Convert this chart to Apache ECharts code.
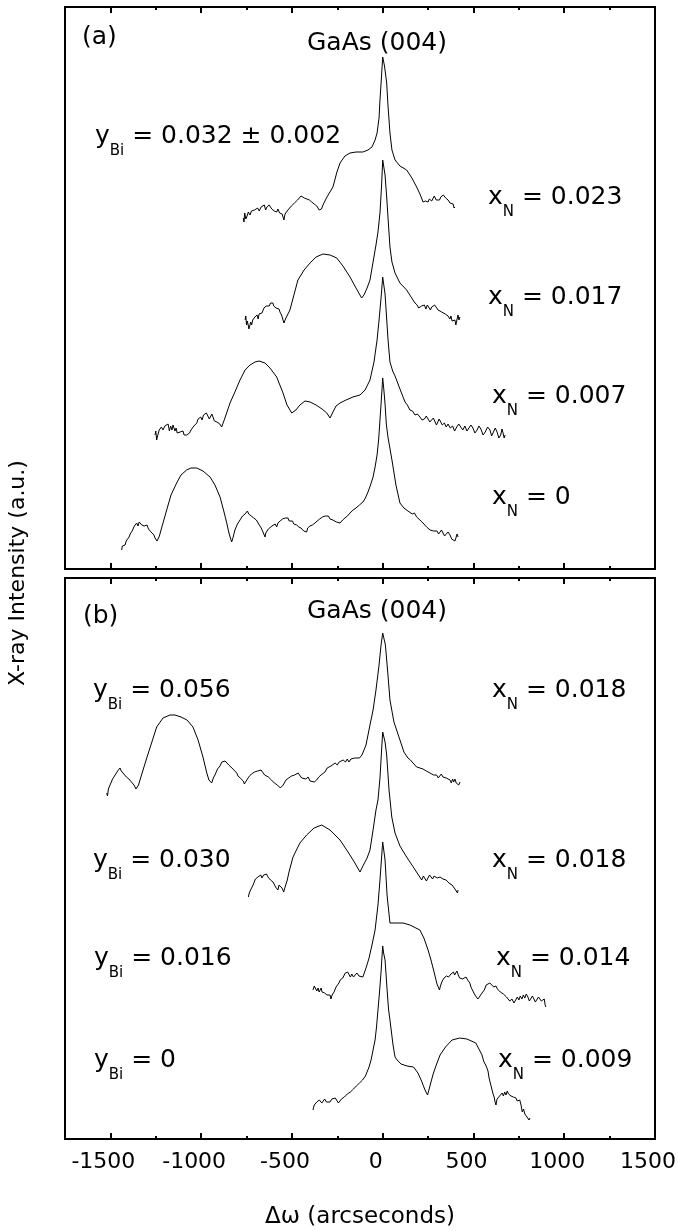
<!DOCTYPE html>
<html>
<head>
<meta charset="utf-8">
<title>GaAs (004) rocking curves</title>
<script src="https://cdn.jsdelivr.net/npm/echarts@6.0.0/dist/echarts.min.js"></script>
<style>
  html, body { margin: 0; padding: 0; background: #fff; }
  #main { width: 678px; height: 1231px; }
</style>
</head>
<body>
<div id="main"></div>
<script>
// 初始化图表
const myChart = echarts.init(document.getElementById('main'));

const font = 'DejaVu Sans';

// x axis: Δω in arcseconds
const xMin = -1750;
const xMax = 1500;
const majorTicks = [-1500, -1000, -500, 0, 500, 1000, 1500];
const minorTicks = [-1250, -750, -250, 250, 750, 1250];

// panel (a), each point is [Δω, intensity (a.u., offset inside the panel)]
const curveA1 = [[-768,351],[-764,347],[-760,356],[-754,350],[-747,353],[-740,357],[-731,354],[-723,358],[-715,356],[-706,359],[-698,357],[-689,361],[-680,358],[-670,362],[-659,361],[-652,364],[-645,359],[-638,362],[-632,360],[-625,364],[-618,363],[-611,360],[-604,362],[-597,358],[-590,360],[-584,357],[-577,360],[-568,356],[-560,358],[-554,355],[-549,356],[-544,349],[-538,355],[-533,357],[-522,359],[-511,361],[-503,363],[-495,364],[-486,366],[-478,368],[-469,369],[-460,371],[-450,373],[-439,374],[-432,371],[-425,372],[-418,370],[-411,372],[-404,369],[-398,370],[-391,367],[-384,369],[-377,365],[-370,366],[-363,363],[-356,363],[-350,359],[-345,357],[-337,360],[-329,364],[-307,372],[-274,382],[-252,397],[-235,406],[-208,413],[-180,416],[-147,417],[-109,417],[-81,419],[-59,422],[-42,429],[-31,436],[-20,451],[-15,469],[-7,491],[0,512],[10,503],[22,486],[29,464],[40,436],[51,419],[68,409],[95,403],[132,399],[161,391],[187,382],[205,375],[214,371],[222,367],[229,369],[236,368],[243,366],[250,367],[257,370],[263,371],[270,368],[277,370],[284,373],[290,372],[295,369],[299,371],[306,368],[313,369],[320,372],[327,371],[334,374],[340,374],[347,371],[354,372],[360,369],[365,370],[371,366],[376,368],[382,364],[388,365],[393,361],[398,362]];

const curveA2 = [[-758,249],[-754,253],[-750,244],[-746,248],[-742,245],[-737,240],[-732,242],[-727,247],[-722,244],[-716,249],[-710,248],[-704,252],[-698,251],[-692,254],[-686,250],[-681,255],[-676,253],[-670,257],[-665,256],[-659,257],[-654,261],[-648,259],[-642,263],[-637,261],[-631,265],[-625,263],[-618,266],[-611,264],[-605,266],[-600,263],[-594,264],[-588,261],[-582,262],[-577,259],[-571,260],[-566,257],[-561,258],[-557,254],[-553,255],[-549,252],[-544,246],[-538,247],[-533,251],[-527,253],[-511,259],[-489,274],[-467,289],[-433,299],[-400,306],[-367,312],[-329,315],[-290,314],[-253,311],[-219,303],[-180,292],[-147,281],[-116,271],[-103,274],[-86,281],[-70,289],[-53,307],[-37,324],[-26,337],[-15,356],[-6,384],[0,409],[13,394],[22,372],[32,344],[40,322],[51,307],[68,296],[95,286],[132,279],[167,269],[178,266],[190,264],[198,261],[205,259],[214,263],[222,261],[230,264],[238,260],[246,264],[255,263],[263,259],[270,262],[277,261],[286,264],[296,262],[305,259],[316,260],[325,257],[335,258],[344,255],[353,257],[360,253],[365,254],[370,250],[376,253],[382,248],[388,250],[393,246],[398,249],[403,244],[407,246],[411,251],[415,254],[420,249],[426,252]];

const curveA3 = [[-1254,134],[-1250,138],[-1245,129],[-1240,133],[-1236,135],[-1231,139],[-1227,137],[-1219,142],[-1210,139],[-1200,143],[-1190,141],[-1182,145],[-1175,138],[-1168,143],[-1161,139],[-1155,144],[-1150,142],[-1144,138],[-1138,141],[-1132,136],[-1127,138],[-1121,135],[-1116,137],[-1108,135],[-1100,138],[-1094,134],[-1089,136],[-1080,134],[-1072,132],[-1064,136],[-1056,139],[-1040,143],[-1024,146],[-1017,150],[-1010,148],[-1002,152],[-995,149],[-987,154],[-980,152],[-971,156],[-962,154],[-955,150],[-948,151],[-941,155],[-935,152],[-927,148],[-920,150],[-913,147],[-907,149],[-897,145],[-887,142],[-869,151],[-841,166],[-814,177],[-786,189],[-758,199],[-731,204],[-703,207],[-681,208],[-648,206],[-621,201],[-584,192],[-549,176],[-527,164],[-501,156],[-478,159],[-456,164],[-428,168],[-400,167],[-367,164],[-334,160],[-308,156],[-290,151],[-274,157],[-257,163],[-235,166],[-202,169],[-164,172],[-125,174],[-97,179],[-70,189],[-48,207],[-31,229],[-20,249],[-9,271],[0,292],[13,275],[22,250],[30,228],[40,207],[55,198],[68,193],[95,180],[123,167],[136,164],[150,159],[164,158],[178,154],[191,155],[205,152],[217,149],[230,150],[240,153],[250,151],[260,147],[270,148],[279,151],[288,149],[296,144],[305,146],[311,150],[316,149],[328,144],[340,146],[350,142],[360,145],[372,141],[385,143],[396,138],[408,142],[419,145],[430,143],[441,139],[453,143],[464,138],[475,140],[486,144],[497,141],[508,136],[520,139],[530,143],[541,140],[553,134],[565,137],[578,142],[591,139],[600,133],[610,135],[620,141],[630,137],[640,131],[650,134],[657,140],[663,136],[669,131],[674,134]];

const curveA4 = [[-1438,19],[-1434,23],[-1430,25],[-1425,22],[-1419,24],[-1413,28],[-1408,30],[-1402,29],[-1397,32],[-1391,35],[-1386,36],[-1380,38],[-1375,39],[-1368,43],[-1362,42],[-1355,46],[-1348,43],[-1341,47],[-1334,47],[-1327,44],[-1320,46],[-1314,43],[-1309,45],[-1304,42],[-1298,44],[-1290,40],[-1282,41],[-1276,37],[-1270,38],[-1265,35],[-1260,34],[-1254,31],[-1248,30],[-1243,28],[-1238,26],[-1230,33],[-1221,39],[-1190,59],[-1166,74],[-1135,86],[-1111,94],[-1080,99],[-1056,101],[-1024,101],[-990,98],[-951,92],[-924,84],[-896,72],[-874,57],[-859,46],[-847,36],[-832,27],[-825,31],[-814,39],[-807,41],[-800,45],[-793,47],[-786,49],[-779,50],[-772,53],[-765,52],[-758,55],[-752,57],[-745,58],[-738,55],[-731,57],[-724,53],[-717,55],[-710,51],[-703,53],[-696,49],[-690,50],[-683,45],[-676,46],[-669,41],[-662,40],[-655,35],[-648,32],[-644,36],[-640,36],[-630,40],[-621,39],[-610,43],[-600,42],[-592,45],[-584,42],[-577,46],[-570,44],[-565,48],[-560,46],[-552,50],[-545,48],[-537,51],[-529,49],[-522,51],[-515,48],[-510,50],[-505,47],[-497,48],[-490,45],[-482,47],[-474,44],[-468,45],[-462,42],[-456,44],[-450,41],[-442,40],[-435,38],[-427,40],[-419,37],[-413,41],[-407,40],[-401,43],[-395,41],[-387,44],[-380,43],[-373,46],[-367,44],[-361,48],[-355,47],[-347,50],[-340,49],[-332,52],[-325,50],[-316,53],[-308,51],[-299,53],[-290,50],[-282,51],[-274,49],[-264,49],[-255,47],[-245,48],[-235,46],[-227,47],[-220,49],[-214,48],[-208,51],[-201,51],[-194,53],[-187,53],[-180,56],[-171,57],[-163,59],[-155,59],[-147,61],[-137,62],[-128,64],[-109,67],[-95,71],[-81,77],[-67,84],[-53,92],[-42,102],[-31,114],[-22,130],[-15,149],[-8,168],[-4,179],[0,191],[6,180],[13,165],[20,145],[29,132],[51,109],[73,84],[95,66],[117,61],[128,63],[139,58],[150,59],[163,55],[175,56],[187,52],[196,54],[205,49],[214,50],[222,46],[232,47],[242,42],[251,44],[261,39],[270,41],[280,38],[290,40],[299,38],[308,35],[316,37],[324,39],[332,36],[341,33],[350,35],[360,37],[371,34],[380,30],[390,32],[398,28],[405,30],[410,35],[415,32]];

// panel (b)
const curveB1 = [[-1520,346],[-1516,343],[-1511,350],[-1506,348],[-1502,354],[-1495,356],[-1488,360],[-1481,359],[-1474,364],[-1467,365],[-1460,368],[-1453,367],[-1447,371],[-1440,368],[-1433,369],[-1426,365],[-1419,367],[-1412,362],[-1405,364],[-1398,360],[-1392,361],[-1384,357],[-1375,359],[-1370,354],[-1365,355],[-1359,350],[-1353,349],[-1349,352],[-1345,354],[-1337,359],[-1320,369],[-1298,382],[-1282,391],[-1245,412],[-1210,421],[-1172,424],[-1144,424],[-1111,422],[-1078,419],[-1045,412],[-1017,399],[-990,382],[-969,366],[-957,359],[-942,356],[-933,361],[-924,364],[-910,370],[-896,373],[-886,377],[-877,376],[-868,378],[-859,376],[-848,374],[-836,372],[-828,370],[-820,369],[-812,367],[-804,366],[-797,363],[-790,363],[-785,361],[-780,361],[-774,359],[-768,358],[-762,355],[-758,356],[-752,358],[-745,360],[-738,362],[-731,361],[-723,365],[-715,364],[-706,367],[-698,365],[-689,368],[-680,366],[-670,369],[-659,367],[-650,364],[-640,366],[-630,362],[-621,363],[-613,359],[-605,360],[-597,356],[-588,358],[-580,354],[-572,355],[-564,351],[-556,352],[-548,354],[-540,356],[-533,359],[-527,357],[-518,361],[-510,359],[-502,363],[-494,361],[-485,364],[-475,363],[-466,366],[-456,364],[-446,361],[-435,363],[-423,360],[-411,362],[-400,358],[-390,360],[-377,357],[-364,359],[-352,362],[-340,364],[-329,366],[-318,367],[-306,371],[-295,370],[-285,373],[-274,372],[-262,376],[-250,374],[-240,377],[-230,376],[-218,379],[-205,377],[-195,380],[-186,377],[-175,380],[-165,378],[-154,381],[-143,379],[-128,381],[-114,384],[-92,394],[-70,414],[-53,429],[-37,449],[-20,474],[-9,494],[0,506],[15,494],[29,464],[40,439],[62,417],[95,399],[117,387],[139,381],[153,379],[167,376],[177,377],[187,372],[196,374],[205,371],[214,373],[222,370],[231,371],[240,368],[250,370],[261,366],[270,367],[280,364],[288,366],[297,364],[306,361],[315,363],[323,365],[332,362],[341,360],[350,361],[360,363],[371,359],[378,356],[385,360],[391,357],[398,360],[405,356],[412,358],[419,354],[426,357]];

const curveB2 = [[-740,242],[-735,246],[-730,247],[-725,250],[-720,251],[-714,254],[-708,255],[-701,260],[-694,259],[-687,262],[-680,260],[-672,264],[-665,261],[-656,264],[-648,262],[-640,265],[-632,262],[-625,261],[-618,259],[-611,260],[-604,257],[-597,256],[-590,252],[-583,253],[-577,249],[-571,254],[-566,252],[-560,255],[-555,251],[-550,252],[-545,247],[-541,250],[-538,249],[-527,258],[-516,267],[-494,282],[-456,296],[-419,304],[-378,311],[-336,314],[-290,309],[-235,299],[-191,287],[-153,276],[-125,267],[-109,273],[-86,281],[-70,289],[-53,309],[-37,329],[-26,339],[-15,361],[-6,389],[0,407],[13,397],[22,384],[35,349],[50,322],[68,306],[95,293],[132,282],[172,271],[215,259],[224,263],[232,261],[241,258],[250,260],[258,264],[266,263],[275,260],[283,263],[291,264],[300,261],[308,259],[316,262],[324,263],[332,260],[340,262],[349,259],[357,260],[365,256],[374,257],[382,254],[390,255],[398,250],[403,248],[408,252],[412,246],[415,249]];

const curveB3 = [[-384,149],[-377,153],[-370,152],[-363,148],[-356,151],[-350,147],[-345,148],[-339,151],[-334,147],[-327,149],[-320,146],[-313,147],[-307,144],[-301,146],[-296,142],[-290,144],[-285,140],[-279,144],[-274,145],[-268,147],[-263,149],[-257,152],[-252,153],[-246,154],[-241,156],[-234,159],[-227,160],[-220,161],[-213,163],[-206,166],[-200,165],[-193,167],[-186,166],[-178,162],[-170,165],[-161,162],[-153,164],[-142,166],[-131,163],[-120,164],[-109,162],[-92,171],[-75,181],[-59,194],[-42,209],[-26,234],[-15,259],[-7,279],[0,297],[13,279],[24,244],[40,216],[73,216],[112,216],[150,214],[183,211],[205,209],[227,201],[250,189],[266,179],[283,167],[299,155],[313,149],[318,153],[323,153],[328,158],[332,157],[338,161],[345,160],[351,163],[357,161],[363,162],[368,164],[372,160],[376,165],[383,167],[390,167],[396,164],[402,166],[409,168],[416,164],[424,161],[431,163],[440,160],[450,161],[459,162],[468,159],[474,158],[480,156],[486,152],[492,151],[500,147],[508,144],[516,143],[524,140],[530,141],[536,143],[541,144],[547,146],[553,147],[560,149],[570,154],[580,152],[590,156],[600,154],[612,152],[624,153],[632,150],[640,151],[648,147],[657,149],[665,145],[674,146],[682,142],[690,143],[700,138],[712,140],[723,136],[734,138],[742,142],[750,139],[758,143],[767,140],[775,144],[783,141],[791,145],[800,142],[808,138],[817,140],[825,143],[833,141],[841,137],[850,139],[858,142],[866,140],[874,138],[883,136],[890,140],[895,134],[899,132]];

const curveB4 = [[-384,29],[-377,34],[-370,33],[-363,37],[-356,35],[-349,39],[-342,38],[-335,36],[-329,38],[-320,40],[-310,37],[-300,39],[-290,37],[-280,40],[-270,38],[-261,41],[-252,39],[-244,36],[-235,37],[-227,40],[-219,38],[-211,42],[-203,41],[-195,45],[-186,43],[-178,47],[-170,46],[-161,50],[-153,48],[-145,53],[-136,52],[-128,56],[-120,55],[-111,59],[-103,60],[-95,63],[-86,65],[-75,72],[-64,79],[-53,89],[-42,99],[-34,112],[-26,129],[-17,148],[-9,167],[-4,182],[0,193],[5,186],[13,179],[24,150],[32,130],[40,119],[57,94],[68,82],[84,78],[101,75],[134,73],[170,72],[194,66],[214,58],[233,49],[247,44],[256,50],[266,57],[278,65],[291,72],[316,84],[346,92],[382,99],[424,101],[464,100],[513,96],[530,90],[547,84],[556,78],[565,76],[572,72],[580,68],[586,61],[592,59],[597,53],[602,51],[608,45],[614,42],[619,37],[624,34],[630,40],[637,38],[644,43],[652,41],[658,46],[665,43],[672,47],[679,44],[686,48],[693,45],[700,47],[707,43],[714,45],[720,42],[727,44],[734,41],[741,38],[748,37],[755,39],[762,34],[769,27],[776,30],[783,25],[789,27],[795,22],[800,24],[806,19],[811,21]];

// annotations: [main, subscript, rest]
const textsA = [
  ['(a)'], ['GaAs (004)'],
  ['y', 'Bi', ' = 0.032 ± 0.002'],
  ['x', 'N', ' = 0.023'], ['x', 'N', ' = 0.017'], ['x', 'N', ' = 0.007'], ['x', 'N', ' = 0']
];
const textsB = [
  ['(b)'], ['GaAs (004)'],
  ['y', 'Bi', ' = 0.056'], ['x', 'N', ' = 0.018'],
  ['y', 'Bi', ' = 0.030'], ['x', 'N', ' = 0.018'],
  ['y', 'Bi', ' = 0.016'], ['x', 'N', ' = 0.014'],
  ['y', 'Bi', ' = 0'], ['x', 'N', ' = 0.009']
];
// left / top of each annotation in px
const placeA = [[82, 25], [307, 31], [95, 124], [488, 185], [488, 285], [492, 384], [492, 485]];
const placeB = [[83, 604], [307, 599], [93, 678], [492, 678], [93, 848], [492, 848], [94, 946], [496, 946], [94, 1048], [498, 1048]];

const rich = {
  m: { fontFamily: font, fontSize: 25, fontWeight: 'normal', lineHeight: 28, color: '#000', verticalAlign: 'top' },
  s: { fontFamily: font, fontSize: 15, fontWeight: 'normal', lineHeight: 15, padding: [20, 0, 0, 0], color: '#000', verticalAlign: 'top' }
};

const toTitle = (t, p) => {
  let text = '{m|' + t[0] + '}';
  if (t.length > 1) text += '{s|' + t[1] + '}{m|' + t[2] + '}';
  return { text, left: p[0], top: p[1], padding: 0, textStyle: { fontWeight: 'normal', rich } };
};

const titles = textsA.map((t, i) => toTitle(t, placeA[i]))
  .concat(textsB.map((t, i) => toTitle(t, placeB[i])));

const tickAxis = (gridIndex, position, values, len, withLabels) => ({
  type: 'value',
  gridIndex,
  position,
  min: xMin,
  max: xMax,
  axisLine: { show: false },
  splitLine: { show: false },
  axisTick: { show: true, inside: true, length: len, customValues: values, lineStyle: { color: '#000', width: 2 } },
  axisLabel: withLabels
    ? { show: true, customValues: majorTicks, margin: 12, padding: [0, 14, 0, 0], fontSize: 22, fontFamily: font, color: '#000', formatter: v => String(v) }
    : { show: false },
  name: withLabels ? 'Δω (arcseconds)' : '',
  nameLocation: 'middle',
  nameGap: 67,
  nameTextStyle: { fontSize: 23, fontFamily: font, color: '#000' }
});

const line = (data, idx) => ({
  type: 'line',
  xAxisIndex: idx * 4,
  yAxisIndex: idx,
  data,
  symbol: 'none',
  silent: true,
  lineStyle: { color: '#000', width: 1 }
});

const option = {
  animation: false,
  backgroundColor: '#fff',
  title: titles,
  grid: [
    { left: 65, top: 7, width: 590, height: 562, show: true, borderColor: '#000', borderWidth: 2, outerBoundsMode: 'none', containLabel: false },
    { left: 65, top: 578, width: 590, height: 561, show: true, borderColor: '#000', borderWidth: 2, outerBoundsMode: 'none', containLabel: false }
  ],
  xAxis: [
    tickAxis(0, 'bottom', majorTicks, 6, false),
    tickAxis(0, 'bottom', minorTicks, 3, false),
    tickAxis(0, 'top', majorTicks, 6, false),
    tickAxis(0, 'top', minorTicks, 3, false),
    tickAxis(1, 'bottom', majorTicks, 6, true),
    tickAxis(1, 'bottom', minorTicks, 3, false),
    tickAxis(1, 'top', majorTicks, 6, false),
    tickAxis(1, 'top', minorTicks, 3, false)
  ],
  yAxis: [
    { type: 'value', gridIndex: 0, min: 0, max: 562, show: false },
    { type: 'value', gridIndex: 1, min: 0, max: 561, show: false }
  ],
  graphic: [{
    type: 'text',
    x: 18,
    y: 573,
    rotation: Math.PI / 2,
    style: { text: 'X-ray Intensity (a.u.)', font: '22px "DejaVu Sans"', fill: '#000', textAlign: 'center', textVerticalAlign: 'middle' }
  }],
  series: [
    line(curveA1, 0), line(curveA2, 0), line(curveA3, 0), line(curveA4, 0),
    line(curveB1, 1), line(curveB2, 1), line(curveB3, 1), line(curveB4, 1)
  ]
};

// 显示图表
myChart.setOption(option);
</script>
</body>
</html>
